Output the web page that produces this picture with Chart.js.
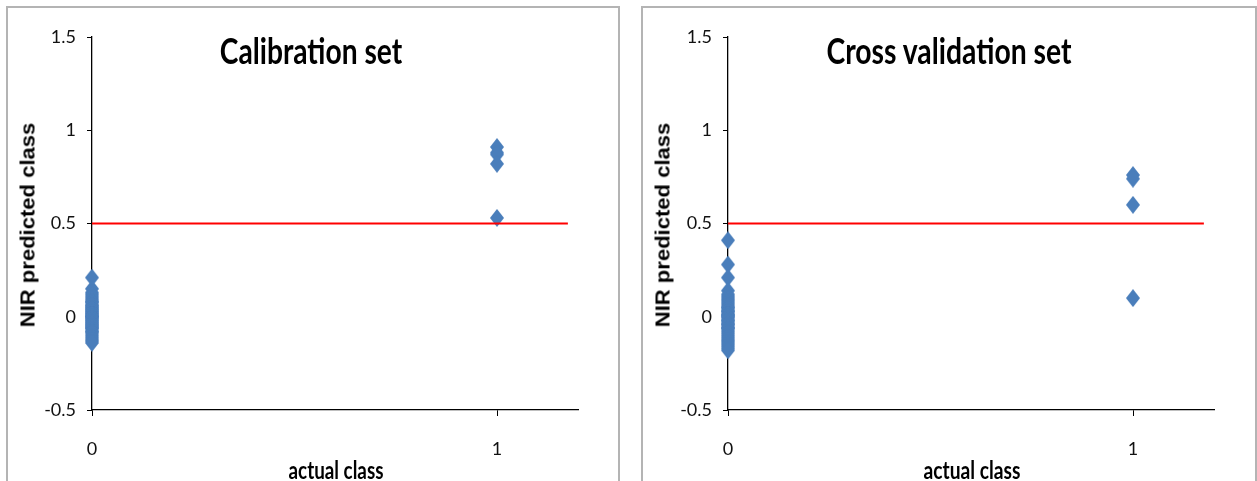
<!DOCTYPE html>
<html lang="en">
<head>
<meta charset="UTF-8">
<title>NIR predicted class</title>
<script src="https://cdn.jsdelivr.net/npm/chart.js"></script>
<style>
  body { margin: 0; background: #fff; width: 1257px; height: 481px; overflow: hidden; position: relative; }
  .frame { position: absolute; top: 6px; height: 490px; border: 2px solid #b4b4b4; box-sizing: border-box; }
  .box { position: absolute; top: 8px; height: 473px; }
  .txt { position: absolute; white-space: nowrap; line-height: 1; color: #000; }
  .ttl { font: bold 37px Lato, 'Open Sans', sans-serif; top: 27px; }
  .xt { font: bold 24px Lato, 'Open Sans', sans-serif; top: 455px; }
  .yt { font: bold 20px 'Liberation Sans', Arial, sans-serif; top: 225px; }
</style>
</head>
<body>
<div class="frame" style="left:6px;width:614px"></div>
<div class="frame" style="left:641px;width:616px"></div>
<div class="box" style="left:8px;width:610px"><canvas id="cal"></canvas></div>
<div class="box" style="left:643px;width:614px"><canvas id="cv"></canvas></div>

<div class="txt ttl" data-w="182" style="left:311px">Calibration set</div>
<div class="txt ttl" data-w="245" style="left:949px">Cross validation set</div>
<div class="txt xt" data-w="95" style="left:336px">actual class</div>
<div class="txt xt" data-w="97" style="left:972px">actual class</div>
<div class="txt yt" data-w="205" style="left:28px">NIR predicted class</div>
<div class="txt yt" data-w="205" style="left:663px">NIR predicted class</div>

<script>
// calibration set: predicted values for actual class 0 and 1
const calClass0 = [0.21, 0.15, 0.13, 0.12, 0.11, 0.10, 0.09, 0.08, 0.08, 0.07, 0.06, 0.06,
  0.05, 0.05, 0.04, 0.04, 0.03, 0.03, 0.02, 0.02, 0.01, 0.01, 0.00, 0.00, 0.00, -0.01,
  -0.01, -0.02, -0.02, -0.03, -0.03, -0.04, -0.04, -0.05, -0.05, -0.06, -0.06, -0.07,
  -0.08, -0.08, -0.09, -0.10, -0.11, -0.12, -0.13, -0.14];
const calClass1 = [0.91, 0.88, 0.87, 0.82, 0.53];

// cross validation set
const cvClass0 = [0.41, 0.28, 0.21, 0.14, 0.12, 0.11, 0.10, 0.09, 0.08, 0.07, 0.06, 0.05,
  0.05, 0.04, 0.03, 0.03, 0.02, 0.01, 0.01, 0.00, 0.00, -0.01, -0.02, -0.02, -0.03,
  -0.04, -0.04, -0.05, -0.06, -0.06, -0.07, -0.08, -0.09, -0.10, -0.11, -0.12, -0.13,
  -0.14, -0.15, -0.16, -0.17, -0.18];
const cvClass1 = [0.76, 0.74, 0.60, 0.10];

const xTicks = [0, 1];
const yTicks = [-0.5, 0, 0.5, 1, 1.5];
const threshold = 0.5;
const thresholdEnd = 1.175;

// diamond marker, a bit taller than wide like the excel one
function diamond() {
  const c = document.createElement('canvas');
  c.width = 14; c.height = 18;
  const g = c.getContext('2d');
  g.fillStyle = '#4a7ebb';
  g.beginPath();
  g.moveTo(7, 0); g.lineTo(14, 9); g.lineTo(7, 18); g.lineTo(0, 9);
  g.closePath();
  g.fill();
  return c;
}
const marker = diamond();

const tickFont = { family: "Lato, 'Open Sans', sans-serif", size: 18 };

function makeChart(id, class0, class1, padRight, yWidth) {
  const pts = class0.map(v => ({ x: 0, y: v })).concat(class1.map(v => ({ x: 1, y: v })));
  return new Chart(document.getElementById(id), {
    type: 'scatter',
    data: {
      datasets: [
        {
          type: 'line',
          data: [{ x: 0, y: threshold }, { x: thresholdEnd, y: threshold }],
          borderColor: '#ff0000',
          borderWidth: 2,
          pointRadius: 0,
          clip: false
        },
        {
          data: pts,
          pointStyle: marker,
          clip: false
        }
      ]
    },
    options: {
      responsive: true,
      maintainAspectRatio: false,
      animation: false,
      layout: { padding: { top: 29, right: padRight, left: 0, bottom: 0 } },
      plugins: { legend: { display: false }, tooltip: { enabled: false } },
      scales: {
        x: {
          type: 'linear',
          min: 0,
          max: 1.2,
          afterBuildTicks: s => { s.ticks = xTicks.map(v => ({ value: v })); },
          afterFit: s => { s.height = 71; },
          grid: { drawOnChartArea: false, tickLength: 6, color: '#000' },
          border: { color: '#000', width: 1.3 },
          ticks: { padding: 22, font: tickFont, color: '#111', callback: v => String(v) }
        },
        y: {
          min: -0.5,
          max: 1.5,
          afterBuildTicks: s => { s.ticks = yTicks.map(v => ({ value: v })); },
          afterFit: s => { s.width = yWidth; },
          grid: { drawOnChartArea: false, tickLength: 5, color: '#000' },
          border: { color: '#000', width: 1.3 },
          ticks: { padding: 11, font: tickFont, color: '#111', callback: v => String(v) }
        }
      }
    }
  });
}

makeChart('cal', calClass0, calClass1, 40, 84);
makeChart('cv', cvClass0, cvClass1, 43, 85);

// squeeze the titles to the width they have in the picture
document.querySelectorAll('.txt').forEach(el => {
  const s = el.dataset.w / el.offsetWidth;
  if (el.classList.contains('yt')) {
    el.style.transform = 'translate(-50%,-50%) rotate(-90deg) scaleX(' + s + ')';
  } else {
    el.style.transform = 'translateX(-50%) scaleX(' + s + ')';
  }
});
</script>
</body>
</html>
